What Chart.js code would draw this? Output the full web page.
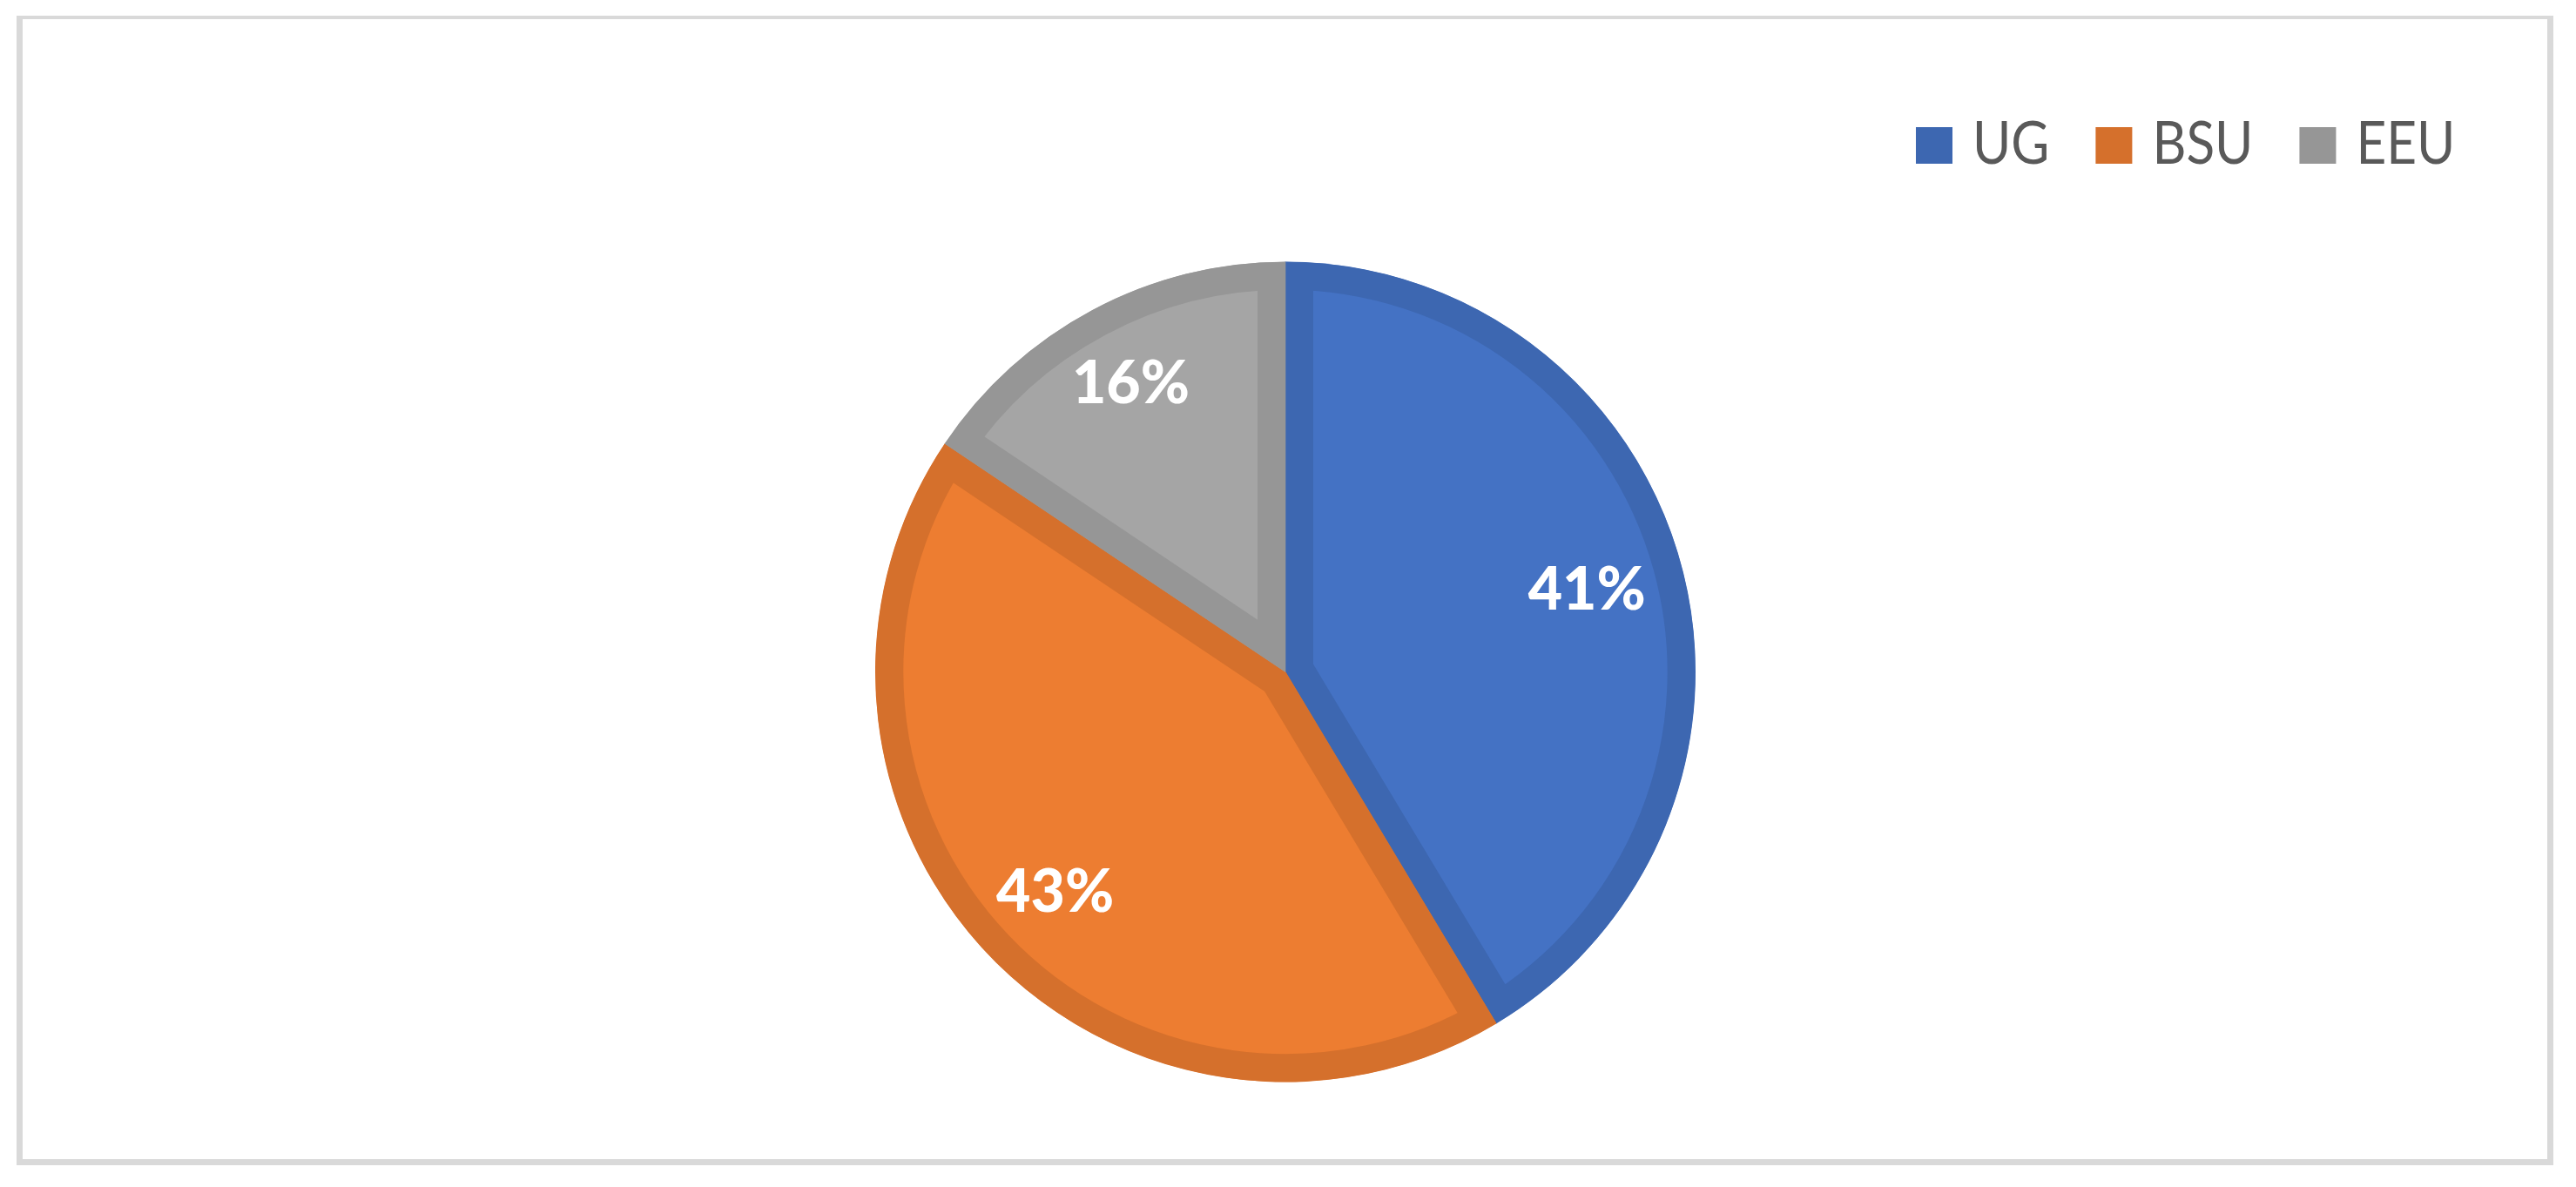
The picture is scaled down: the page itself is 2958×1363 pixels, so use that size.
<!DOCTYPE html>
<html>
<head>
<meta charset="utf-8">
<script src="https://cdn.jsdelivr.net/npm/chart.js@4.4.0/dist/chart.umd.min.js"></script>
<style>
  html, body { margin: 0; padding: 0; background: #ffffff; }
  canvas { display: block; }
</style>
</head>
<body>
<canvas id="pieChart" width="2958" height="1363"></canvas>
<script>
// groups and their share
const groups = ['UG', 'BSU', 'EEU'];
const shares = [41.4, 43.0, 15.6];
const fillColors = ['#4472c4', '#ed7d31', '#a5a5a5'];
const edgeColors = ['#3d67b1', '#d5702c', '#969696'];

// frame round the whole picture, like the office chart box
const framePlugin = {
    id: 'frame',
    beforeDraw(chart) {
        const ctx = chart.ctx;
        ctx.save();
        ctx.fillStyle = '#ffffff';
        ctx.fillRect(0, 0, chart.width, chart.height);
        ctx.fillStyle = '#d9d9d9';
        ctx.fillRect(19, 18, 2913, 4);     // top
        ctx.fillRect(19, 1331, 2913, 7);   // bottom
        ctx.fillRect(19, 18, 7, 1320);     // left
        ctx.fillRect(2925, 18, 7, 1320);   // right
        ctx.restore();
    }
};

// percent labels placed inside the end of each slice
const percentLabels = {
    id: 'percentLabels',
    afterDatasetsDraw(chart) {
        const ctx = chart.ctx;
        const meta = chart.getDatasetMeta(0);
        const data = chart.data.datasets[0].data;
        const total = data.reduce((a, b) => a + b, 0);
        ctx.save();
        ctx.font = '900 68px Lato';
        ctx.fillStyle = '#ffffff';
        ctx.textAlign = 'center';
        ctx.textBaseline = 'alphabetic';
        meta.data.forEach((arc, i) => {
            const p = arc.getProps(['x', 'y', 'startAngle', 'endAngle', 'outerRadius'], true);
            const mid = (p.startAngle + p.endAngle) / 2;
            const dx = Math.cos(mid);
            const dy = Math.sin(mid);
            const text = Math.round(data[i] / total * 100) + '%';
            const w = ctx.measureText(text).width;
            const h = 50;
            const d = p.outerRadius - 40 - (Math.abs(dx) * w / 2 + Math.abs(dy) * h / 2);
            ctx.fillText(text, p.x + dx * d, p.y + dy * d + 24);
        });
        ctx.restore();
    }
};

// legend drawn by hand so the key sizes and gaps match
const keyLegend = {
    id: 'keyLegend',
    afterDraw(chart) {
        const ctx = chart.ctx;
        let x = 2200;
        ctx.save();
        ctx.font = '67px Lato';
        ctx.textBaseline = 'alphabetic';
        ctx.textAlign = 'left';
        chart.data.labels.forEach((label, i) => {
            ctx.fillStyle = edgeColors[i];
            ctx.fillRect(x, 146, 42, 42);
            const tx = x + 65;
            const sx = 0.9;
            const w = ctx.measureText(label).width * sx;
            ctx.save();
            ctx.translate(tx, 188);
            ctx.scale(sx, 1);
            ctx.fillStyle = '#595959';
            ctx.fillText(label, 0, 0);
            ctx.restore();
            x = tx + w + 53;
        });
        ctx.restore();
    }
};

const pieChart = new Chart(document.getElementById('pieChart').getContext('2d'), {
    type: 'pie',
    data: {
        labels: groups,
        datasets: [{
            data: shares,
            backgroundColor: fillColors,
            borderColor: edgeColors,
            borderWidth: 32,
            borderAlign: 'inner',
            borderJoinStyle: 'miter',
            radius: 471
        }]
    },
    options: {
        responsive: false,
        devicePixelRatio: 1,
        animation: false,
        layout: { padding: { top: 180, left: 0, right: 6, bottom: 0 } },
        plugins: {
            legend: { display: false },
            tooltip: { enabled: false }
        }
    },
    plugins: [framePlugin, percentLabels, keyLegend]
});
</script>
</body>
</html>
